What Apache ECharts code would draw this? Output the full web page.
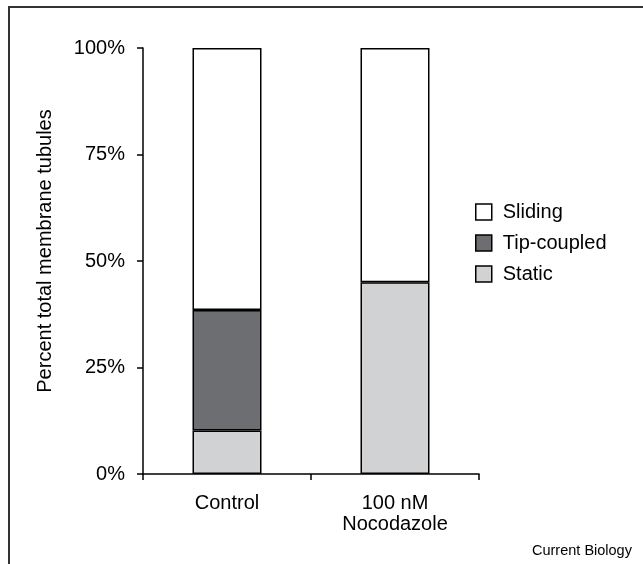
<!DOCTYPE html>
<html>
<head>
<meta charset="utf-8">
<script src="https://cdn.jsdelivr.net/npm/echarts@6/dist/echarts.min.js"></script>
<style>
  html, body { margin: 0; padding: 0; background: #fff; }
  #chart { width: 643px; height: 564px; }
</style>
</head>
<body>
<div id="chart"></div>
<script>
// categories and values (percent of total tubules)
var categories = ['Control', '100 nM\nNocodazole'];
var staticVals = [10.2, 45.0];
var tipCoupledVals = [28.3, 0];
var slidingVals = [61.5, 55.0];
var yTicks = [0, 25, 50, 75, 100];

var font = 'Liberation Sans, Arial, Helvetica, sans-serif';

//堆叠柱, 0值不画(避免多出一条边线)
function bar(name, data, color) {
    return {
        name: name,
        type: 'bar',
        stack: 'total',
        data: data.map(function (v) { return v === 0 ? '-' : v; }),
        barWidth: 69,
        itemStyle: { color: color, borderColor: '#000', borderWidth: 1.5 },
        emphasis: { disabled: true }
    };
}

var chart = echarts.init(document.getElementById('chart'));
var option = {
    animation: false,
    backgroundColor: '#fff',
    textStyle: { fontFamily: font },
    grid: { left: 143, top: 48, right: 164, bottom: 90 },
    legend: {
        orient: 'vertical',
        left: 470,
        top: 197,
        itemWidth: 16,
        itemHeight: 16,
        itemGap: 11,
        icon: 'rect',
        textStyle: { fontSize: 20, color: '#000', fontFamily: font, padding: [0, 0, 0, 6] },
        data: [
            { name: 'Sliding', itemStyle: { borderColor: '#000', borderWidth: 1.5 } },
            { name: 'Tip-coupled', itemStyle: { borderColor: '#000', borderWidth: 1.5 } },
            { name: 'Static', itemStyle: { borderColor: '#000', borderWidth: 1.5 } }
        ]
    },
    xAxis: {
        type: 'category',
        data: categories,
        axisLine: { lineStyle: { color: '#000', width: 1.5 } },
        axisTick: { show: true, length: 6, lineStyle: { color: '#000', width: 1.5 } },
        axisLabel: { fontSize: 20, color: '#000', margin: 19, lineHeight: 21, fontFamily: font }
    },
    yAxis: {
        type: 'value',
        min: yTicks[0],
        max: yTicks[yTicks.length - 1],
        interval: 25,
        name: 'Percent total membrane tubules',
        nameLocation: 'middle',
        nameGap: 88,
        nameTextStyle: { fontSize: 20, color: '#000', fontFamily: font, padding: [0, 0, 0, 20] },
        splitLine: { show: false },
        axisLine: { show: true, lineStyle: { color: '#000', width: 1.5 } },
        axisTick: { show: true, length: 6, lineStyle: { color: '#000', width: 1.5 } },
        axisLabel: { fontSize: 20, color: '#000', margin: 18, formatter: '{value}%', fontFamily: font }
    },
    series: [
        bar('Static', staticVals, '#d1d2d4'),
        bar('Tip-coupled', tipCoupledVals, '#6d6e71'),
        bar('Sliding', slidingVals, '#ffffff')
    ],
    graphic: [
        {
            type: 'rect',
            shape: { x: 9, y: 7, width: 700, height: 700 },
            style: { fill: 'none', stroke: '#333', lineWidth: 2 },
            silent: true
        },
        {
            type: 'text',
            left: 532,
            top: 543,
            style: { text: 'Current Biology', fontSize: 14.5, fill: '#000', fontFamily: font },
            silent: true
        }
    ]
};
chart.setOption(option);
</script>
</body>
</html>
